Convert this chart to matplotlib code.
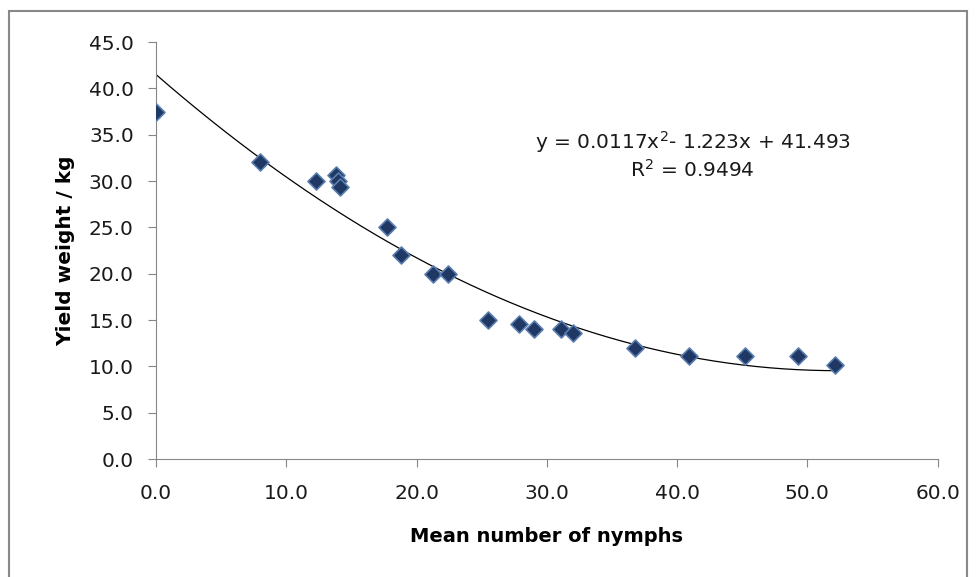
import numpy as np
import matplotlib
matplotlib.use('Agg')
import matplotlib.pyplot as plt
from matplotlib.patches import Rectangle

# data
nymphs = [0.0, 8.0, 12.3, 13.8, 14.0, 14.1, 17.7, 18.8, 21.3, 22.4,
          25.5, 27.9, 29.0, 31.1, 32.0, 36.8, 40.9, 45.2, 49.3, 52.1]
yield_kg = [37.4, 32.0, 30.0, 30.6, 30.0, 29.4, 25.0, 22.0, 20.0, 20.0,
            15.0, 14.6, 14.0, 14.0, 13.6, 12.0, 11.1, 11.1, 11.1, 10.1]
coef = [0.0117, -1.223, 41.493]
r2 = 0.9494
x_ticks = [0, 10, 20, 30, 40, 50, 60]
y_ticks = [0, 5, 10, 15, 20, 25, 30, 35, 40, 45]

plt.rcParams['font.family'] = ['DejaVu Sans']

fig = plt.figure(figsize=(9.78, 5.77), dpi=100)
ax = fig.add_axes([0.1595, 0.2045, 0.7992, 0.7227])

xs = np.linspace(0, max(nymphs), 200)
ax.plot(xs, np.polyval(coef, xs), color='black', lw=0.9, zorder=2)
ax.scatter(nymphs, yield_kg, marker='D', s=75, facecolor='#1F3864',
           edgecolor='#5A7EAE', linewidth=1.2, zorder=3)

ax.set_xlim(0, 60)
ax.set_ylim(0, 45)
ax.set_xticks(x_ticks)
ax.set_yticks(y_ticks)
ax.set_xticklabels([f'{v:.1f}' for v in x_ticks])
ax.set_yticklabels([f'{v:.1f}' for v in y_ticks])
ax.tick_params(labelsize=14.5, length=6, color='#868686', colors='#1a1a1a')
ax.tick_params(axis='y', pad=10)
ax.tick_params(axis='x', pad=12)

for s in ['top', 'right']:
    ax.spines[s].set_visible(False)
for s in ['left', 'bottom']:
    ax.spines[s].set_color('#868686')

ax.set_xlabel('Mean number of nymphs', fontsize=14, fontweight='bold', labelpad=17)
ax.set_ylabel('Yield weight / kg', fontsize=14.5, fontweight='bold', labelpad=10)

ax.text(41.2, 34.2, r'y = 0.0117x$^2$- 1.223x + 41.493', ha='center', va='center',
        fontsize=14.5, color='#1a1a1a')
ax.text(41.2, 31.2, r'R$^2$ = ' + f'{r2}', ha='center', va='center',
        fontsize=14.5, color='#1a1a1a')

# outer chart border
fig.patches.append(Rectangle((9 / 978, -0.05), (967 - 9) / 978, 1.05 - 11 / 577,
                             transform=fig.transFigure, fill=False,
                             edgecolor='#888888', lw=1.5))

fig.savefig('out.png', dpi=100)
